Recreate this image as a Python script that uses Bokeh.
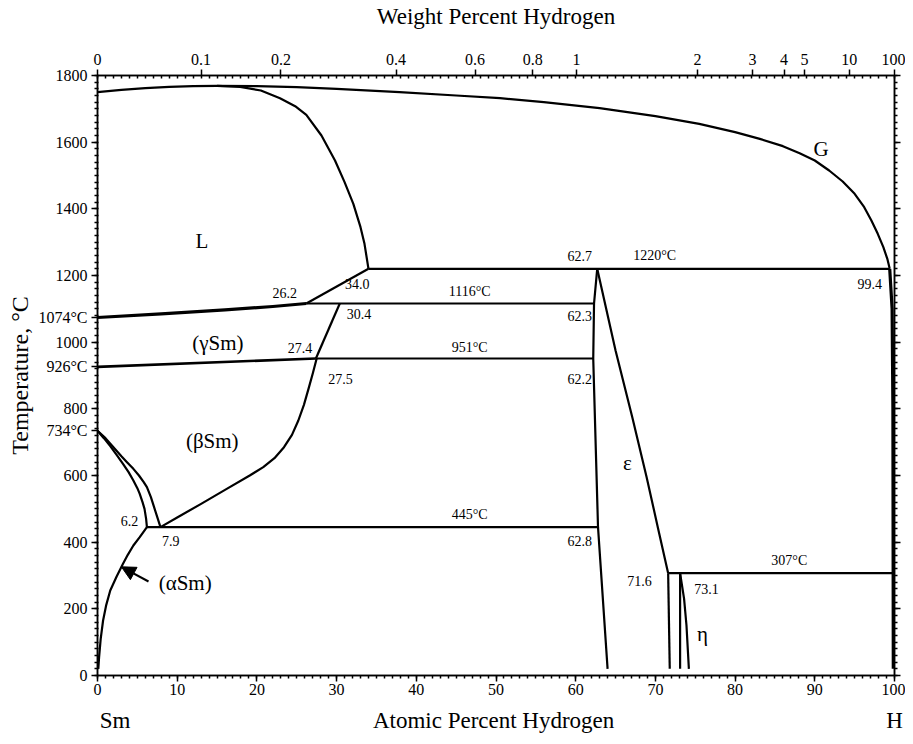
from bokeh.plotting import figure
from bokeh.models import (Range1d, LinearAxis, FixedTicker, SingleIntervalTicker,
                          Arrow, NormalHead, ColumnDataSource)
from bokeh.core.properties import value
from bokeh.embed import file_html
from bokeh.resources import INLINE

FONT = "Liberation Serif"

# ---------------- data (atomic % H, temperature °C) ----------------
top_left_x = [0, 3, 6, 9, 12, 15]
top_left_T = [1750, 1757, 1762, 1766, 1768, 1769]

liq_x = [15, 17.9, 20.5, 22.9, 24.8, 26.2, 28.1, 29.8, 31.0, 32.1, 33.0, 33.5, 34.0]
liq_T = [1769, 1766, 1755, 1732, 1708, 1682, 1620, 1545, 1480, 1415, 1345, 1295, 1220]

gas_x = [15, 20, 25, 30, 37.9, 45, 50.5, 56, 63, 70, 75.5, 80, 83.1, 86, 88.1, 90,
         91.8, 93.5, 95, 96.2, 97.1, 97.9, 98.6, 99.1, 99.4]
gas_T = [1769, 1768, 1765, 1760, 1750, 1740, 1732, 1720, 1702, 1678, 1655, 1630, 1610,
         1588, 1567, 1545, 1515, 1482, 1445, 1405, 1365, 1325, 1285, 1250, 1220]

hrich_x = [99.4, 99.7, 99.8, 99.85]
hrich_T = [1220, 1100, 800, 20]

gam_liq_x = [0, 8, 16, 22, 26.2]
gam_liq_T = [1074, 1085, 1097, 1107, 1116]

l_bound_x = [26.2, 34.0]
l_bound_T = [1116, 1220]

gam_solv_x = [30.4, 27.4]
gam_solv_T = [1116, 951]

gb_x = [0, 27.4]
gb_T = [926, 951]

beta_solv_x = [27.5, 27.0, 26.5, 25.9, 25.2, 24.4, 23.4, 22.2, 20.8, 19.1, 16.0, 13.0,
               10.0, 7.9]
beta_solv_T = [951, 905, 862, 812, 765, 722, 685, 652, 625, 600, 557, 515, 474, 445]

ab1_x = [0, 0.8, 1.6, 2.4, 3.2, 3.9, 4.5, 5.0, 5.3, 5.65, 5.9, 6.1, 6.2]
ab1_T = [734, 712, 688, 662, 635, 610, 585, 562, 545, 520, 500, 470, 445]
ab2_x = [0, 1.0, 2.0, 3.0, 3.7, 4.5, 5.2, 5.8, 6.2, 6.7, 7.1, 7.5, 7.9]
ab2_T = [734, 712, 685, 658, 640, 620, 600, 580, 565, 535, 505, 475, 445]

alpha_solv_x = [6.2, 5.3, 4.5, 3.8, 3.2, 2.4, 1.6, 1.1, 0.7, 0.4, 0.2, 0.1]
alpha_solv_T = [445, 415, 390, 362, 335, 297, 255, 212, 165, 110, 55, 20]

eps_left_x = [62.7, 62.3, 62.2, 62.8, 64.0]
eps_left_T = [1220, 1116, 951, 445, 20]

eps_right_x = [62.7, 65.0, 67.1, 68.9, 70.3, 71.6]
eps_right_T = [1220, 975, 775, 595, 445, 307]

eta1_x = [71.6, 71.8]
eta1_T = [307, 20]
eta2_x = [73.1, 73.1]
eta2_T = [307, 20]
eta3_x = [73.1, 73.6, 73.9, 74.2]
eta3_T = [307, 230, 150, 20]

# isotherms: (temperature, x_start, x_end)
iso_T = [1220, 1116, 951, 445, 307]
iso_x0 = [34.0, 26.2, 27.4, 6.2, 71.6]
iso_x1 = [99.4, 62.3, 62.2, 62.8, 100]

# labels inside the diagram
num_text = ["26.2", "34.0", "30.4", "27.4", "27.5", "62.7", "62.3", "62.2", "62.8",
            "99.4", "6.2", "7.9", "71.6", "73.1",
            "1220°C", "1116°C", "951°C", "445°C", "307°C"]
num_x = [23.5, 32.6, 32.8, 25.4, 30.5, 60.5, 60.5, 60.5, 60.5,
         96.9, 4.0, 9.2, 68.0, 76.4,
         69.9, 46.7, 46.7, 46.7, 86.8]
num_T = [1149, 1176, 1086, 984, 891, 1260, 1080, 891, 405,
         1176, 465, 405, 285, 261,
         1260, 1152, 984, 483, 345]

phase_text = ["L", "G", "(γSm)", "(βSm)", "(αSm)", "ε", "η"]
phase_x = [13.1, 90.8, 15.1, 14.4, 11.0, 66.5, 75.9]
phase_T = [1305, 1581, 999, 705, 279, 639, 126]

# temperature axis: regular ticks plus marked transition temperatures
temp_ticks = [0, 200, 400, 600, 800, 1000, 1200, 1400, 1600, 1800]
side_T = [1074, 926, 734]
side_text = ["1074°C", "926°C", "734°C"]

# bottom row of texts: element ends and axis title
bottom_pos = [2.2, 49.7, 100]
bottom_text = ["Sm", "Atomic Percent Hydrogen", "H"]

wt_labels = [0, 0.1, 0.2, 0.4, 0.6, 0.8, 1, 2, 3, 4, 5, 10, 100]
M_H, M_SM = 1.008, 150.36


def wt_to_at(w):
    if w >= 100:
        return 100.0
    nh = w / M_H
    ns = (100 - w) / M_SM
    return round(100 * nh / (nh + ns), 4)


wt_pos = [wt_to_at(w) for w in wt_labels]

# ---------------- figure ----------------
p = figure(frame_width=797, frame_height=600,
           x_range=Range1d(0, 100), y_range=Range1d(0, 1800),
           output_backend="svg", toolbar_location=None,
           min_border_left=97, min_border_right=11,
           min_border_top=75, min_border_bottom=61)
p.grid.visible = False
p.outline_line_color = "black"
p.outline_line_width = 1.5
p.background_fill_color = "white"
p.border_fill_color = "white"


def style_axis(ax):
    ax.axis_line_color = "black"
    ax.axis_line_width = 1.5
    ax.major_tick_line_color = "black"
    ax.major_tick_line_width = 1.5
    ax.minor_tick_line_color = "black"
    ax.minor_tick_line_width = 1.5
    ax.major_label_text_font = FONT
    ax.major_label_text_color = "black"
    ax.major_label_text_font_size = "16px"
    ax.axis_label_text_font = FONT
    ax.axis_label_text_font_style = "normal"
    ax.axis_label_text_font_size = "23px"
    ax.axis_label_text_color = "black"


# bottom axis (atomic %)
xb = p.xaxis[0]
xb.ticker = SingleIntervalTicker(interval=10, num_minor_ticks=10)
style_axis(xb)
xb.major_tick_out = 6
xb.major_tick_in = 0
xb.minor_tick_out = 3
xb.minor_tick_in = 0
xb.major_label_standoff = 2

# second bottom row: "Sm   Atomic Percent Hydrogen   H"
xb2 = LinearAxis(ticker=FixedTicker(ticks=bottom_pos, minor_ticks=[]))
style_axis(xb2)
xb2.axis_line_color = None
xb2.major_tick_line_color = None
xb2.major_tick_out = 0
xb2.major_tick_in = 0
xb2.minor_tick_out = 0
xb2.minor_tick_in = 0
xb2.major_label_text_font_size = "23px"
xb2.major_label_standoff = 10
xb2.major_label_overrides = {pos: t for pos, t in zip(bottom_pos, bottom_text)}
p.add_layout(xb2, "below")

# left axis
yl = p.yaxis[0]
yl.ticker = FixedTicker(ticks=temp_ticks + side_T, minor_ticks=list(range(0, 1801, 20)))
style_axis(yl)
yl.major_tick_out = 6
yl.major_tick_in = 0
yl.minor_tick_out = 3
yl.minor_tick_in = 1
yl.major_label_standoff = 4
overrides = {t: str(t) for t in temp_ticks}
overrides.update({t: s for t, s in zip(side_T, side_text)})
yl.major_label_overrides = overrides
yl.axis_label = "Temperature, °C"
yl.axis_label_text_font_size = "24px"
yl.axis_label_standoff = 2

# top axis (weight %)
xt = LinearAxis(ticker=FixedTicker(ticks=wt_pos, minor_ticks=list(range(0, 101))))
style_axis(xt)
xt.major_tick_out = 6
xt.major_tick_in = 0
xt.minor_tick_out = 0
xt.minor_tick_in = 3
xt.major_label_standoff = 5
xt.major_label_overrides = {pos: (str(w) if w != int(w) else str(int(w)))
                            for pos, w in zip(wt_pos, wt_labels)}
xt.axis_label = "Weight Percent Hydrogen"
xt.axis_label_standoff = 22
p.add_layout(xt, "above")

# right axis (ticks only)
yr = LinearAxis(ticker=SingleIntervalTicker(interval=200, num_minor_ticks=10))
style_axis(yr)
yr.major_tick_out = 6
yr.major_tick_in = 0
yr.minor_tick_out = 3
yr.minor_tick_in = 0
yr.major_label_overrides = {v: "" for v in range(0, 1801, 200)}
yr.major_label_standoff = 0
p.add_layout(yr, "right")

# ---------------- phase boundaries ----------------
LW = 2.2
curves = [
    (top_left_x, top_left_T, LW),
    (liq_x, liq_T, LW),
    (gas_x, gas_T, LW),
    (hrich_x, hrich_T, 3.2),
    (gam_liq_x, gam_liq_T, 3.2),
    (l_bound_x, l_bound_T, LW),
    (gam_solv_x, gam_solv_T, LW),
    (gb_x, gb_T, 2.6),
    (beta_solv_x, beta_solv_T, LW),
    (ab1_x, ab1_T, LW),
    (ab2_x, ab2_T, LW),
    (alpha_solv_x, alpha_solv_T, LW),
    (eps_left_x, eps_left_T, LW),
    (eps_right_x, eps_right_T, LW),
    (eta1_x, eta1_T, LW),
    (eta2_x, eta2_T, LW),
    (eta3_x, eta3_T, LW),
]
for xs, ts, w in curves:
    p.line(xs, ts, line_color="black", line_width=w, line_join="round")

p.segment(x0=iso_x0, y0=iso_T, x1=iso_x1, y1=iso_T, line_color="black", line_width=LW)

# ---------------- text ----------------
num_src = ColumnDataSource(dict(x=num_x, y=num_T, t=num_text))
p.text(x="x", y="y", text="t", source=num_src, text_font=value(FONT),
       text_font_size="14px", text_align="center", text_baseline="middle",
       text_color="black")

ph_src = ColumnDataSource(dict(x=phase_x, y=phase_T, t=phase_text))
p.text(x="x", y="y", text="t", source=ph_src, text_font=value(FONT),
       text_font_size="21px", text_align="center", text_baseline="middle",
       text_color="black")

p.add_layout(Arrow(end=NormalHead(size=14, fill_color="black", line_color="black"),
                   x_start=6.4, y_start=282, x_end=3.0, y_end=326,
                   line_color="black", line_width=2))

open("out.html", "w").write(file_html(p, INLINE))
